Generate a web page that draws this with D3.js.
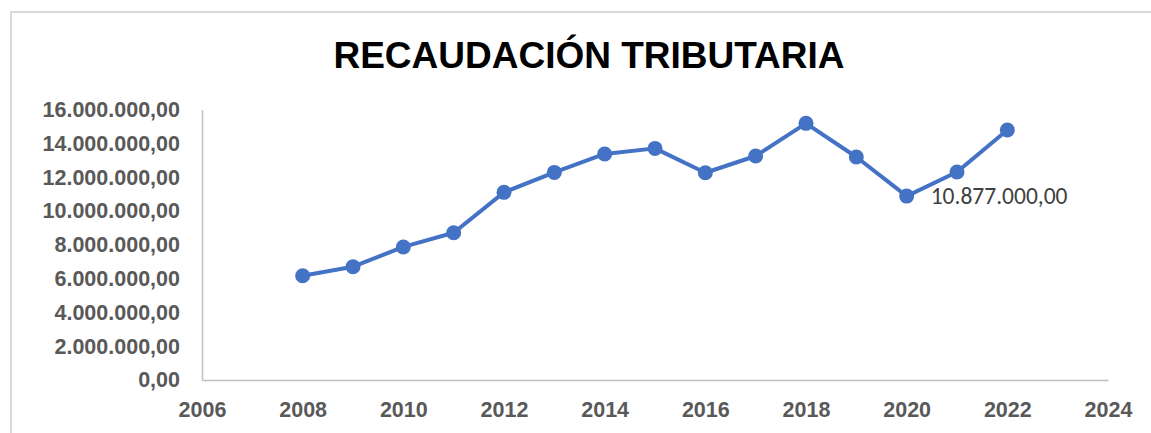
<!DOCTYPE html>
<html>
<head>
<meta charset="utf-8">
<script src="https://cdn.jsdelivr.net/npm/d3@7"></script>
<style>
  body { margin: 0; background: #fff; }
  svg { display: block; }
</style>
</head>
<body>
<svg id="chart"></svg>
<script>
// data
const years = [2008, 2009, 2010, 2011, 2012, 2013, 2014, 2015, 2016, 2017, 2018, 2019, 2020, 2021, 2022];
const recaudacion = [6170000, 6700000, 7870000, 8710000, 11100000, 12280000, 13370000, 13700000,
  12260000, 13250000, 15180000, 13190000, 10877000, 12300000, 14790000];
const xTicks = [2006, 2008, 2010, 2012, 2014, 2016, 2018, 2020, 2022, 2024];
const yTicks = [0, 2000000, 4000000, 6000000, 8000000, 10000000, 12000000, 14000000, 16000000];
const labelledYear = 2020;
const title = "RECAUDACIÓN TRIBUTARIA";

const W = 1151, H = 433;
const plot = { left: 202, right: 1108, top: 109.5, bottom: 380 };

const svg = d3.select("#chart").attr("width", W).attr("height", H);

// outer chart border (continues past the window edge)
svg.append("rect")
  .attr("x", 11).attr("y", 12)
  .attr("width", W + 20).attr("height", H + 20)
  .attr("fill", "none")
  .attr("stroke", "#d9d9d9")
  .attr("stroke-width", 2);

// number format like 16.000.000,00
const esLocale = d3.formatLocale({ decimal: ",", thousands: ".", grouping: [3], currency: ["", ""] });
const fmt = esLocale.format(",.2f");

const x = d3.scaleLinear().domain([2006, 2024]).range([plot.left, plot.right]);
const y = d3.scaleLinear().domain([0, 16000000]).range([plot.bottom, plot.top]);

// title
svg.append("text")
  .attr("x", 589).attr("y", 68)
  .attr("text-anchor", "middle")
  .style("font-family", "Liberation Sans, Arial, sans-serif")
  .style("font-weight", "bold")
  .style("font-size", "37px")
  .attr("fill", "#000")
  .text(title);

// Y axis
const yAxis = svg.append("g")
  .attr("transform", "translate(" + plot.left + ",0)")
  .call(d3.axisLeft(y).tickValues(yTicks).tickFormat(fmt).tickSize(0).tickPadding(22));
yAxis.select(".domain").attr("stroke", "#bfbfbf").attr("stroke-width", 1.5);
yAxis.selectAll("text")
  .style("font-family", "Liberation Sans, Arial, sans-serif")
  .style("font-weight", "bold")
  .style("font-size", "21.5px")
  .attr("fill", "#595959");

// X axis
const xAxis = svg.append("g")
  .attr("transform", "translate(0," + plot.bottom + ")")
  .call(d3.axisBottom(x).tickValues(xTicks).tickFormat(d3.format("d")).tickSize(0).tickPadding(22));
xAxis.select(".domain").attr("stroke", "#bfbfbf").attr("stroke-width", 1.5);
xAxis.selectAll("text")
  .style("font-family", "Liberation Sans, Arial, sans-serif")
  .style("font-weight", "bold")
  .style("font-size", "21.5px")
  .attr("fill", "#595959");

const data = years.map((yr, i) => ({ year: yr, value: recaudacion[i] }));

// the line
const line = d3.line()
  .x((d) => x(d.year))
  .y((d) => y(d.value));

svg.append("path")
  .datum(data)
  .attr("fill", "none")
  .attr("stroke", "#4472c4")
  .attr("stroke-width", 4)
  .attr("stroke-linejoin", "round")
  .attr("d", line);

// markers
svg.selectAll(".dot")
  .data(data)
  .enter()
  .append("circle")
  .attr("class", "dot")
  .attr("cx", (d) => x(d.year))
  .attr("cy", (d) => y(d.value))
  .attr("r", 7.5)
  .attr("fill", "#4472c4");

// data label on 2020
const lab = data.find((d) => d.year === labelledYear);
svg.append("text")
  .attr("x", x(lab.year) + 24)
  .attr("y", y(lab.value) + 8)
  .style("font-family", "Carlito, Open Sans, sans-serif")
  .style("font-size", "23.5px")
  .attr("fill", "#404040")
  .text(fmt(lab.value));
</script>
</body>
</html>
